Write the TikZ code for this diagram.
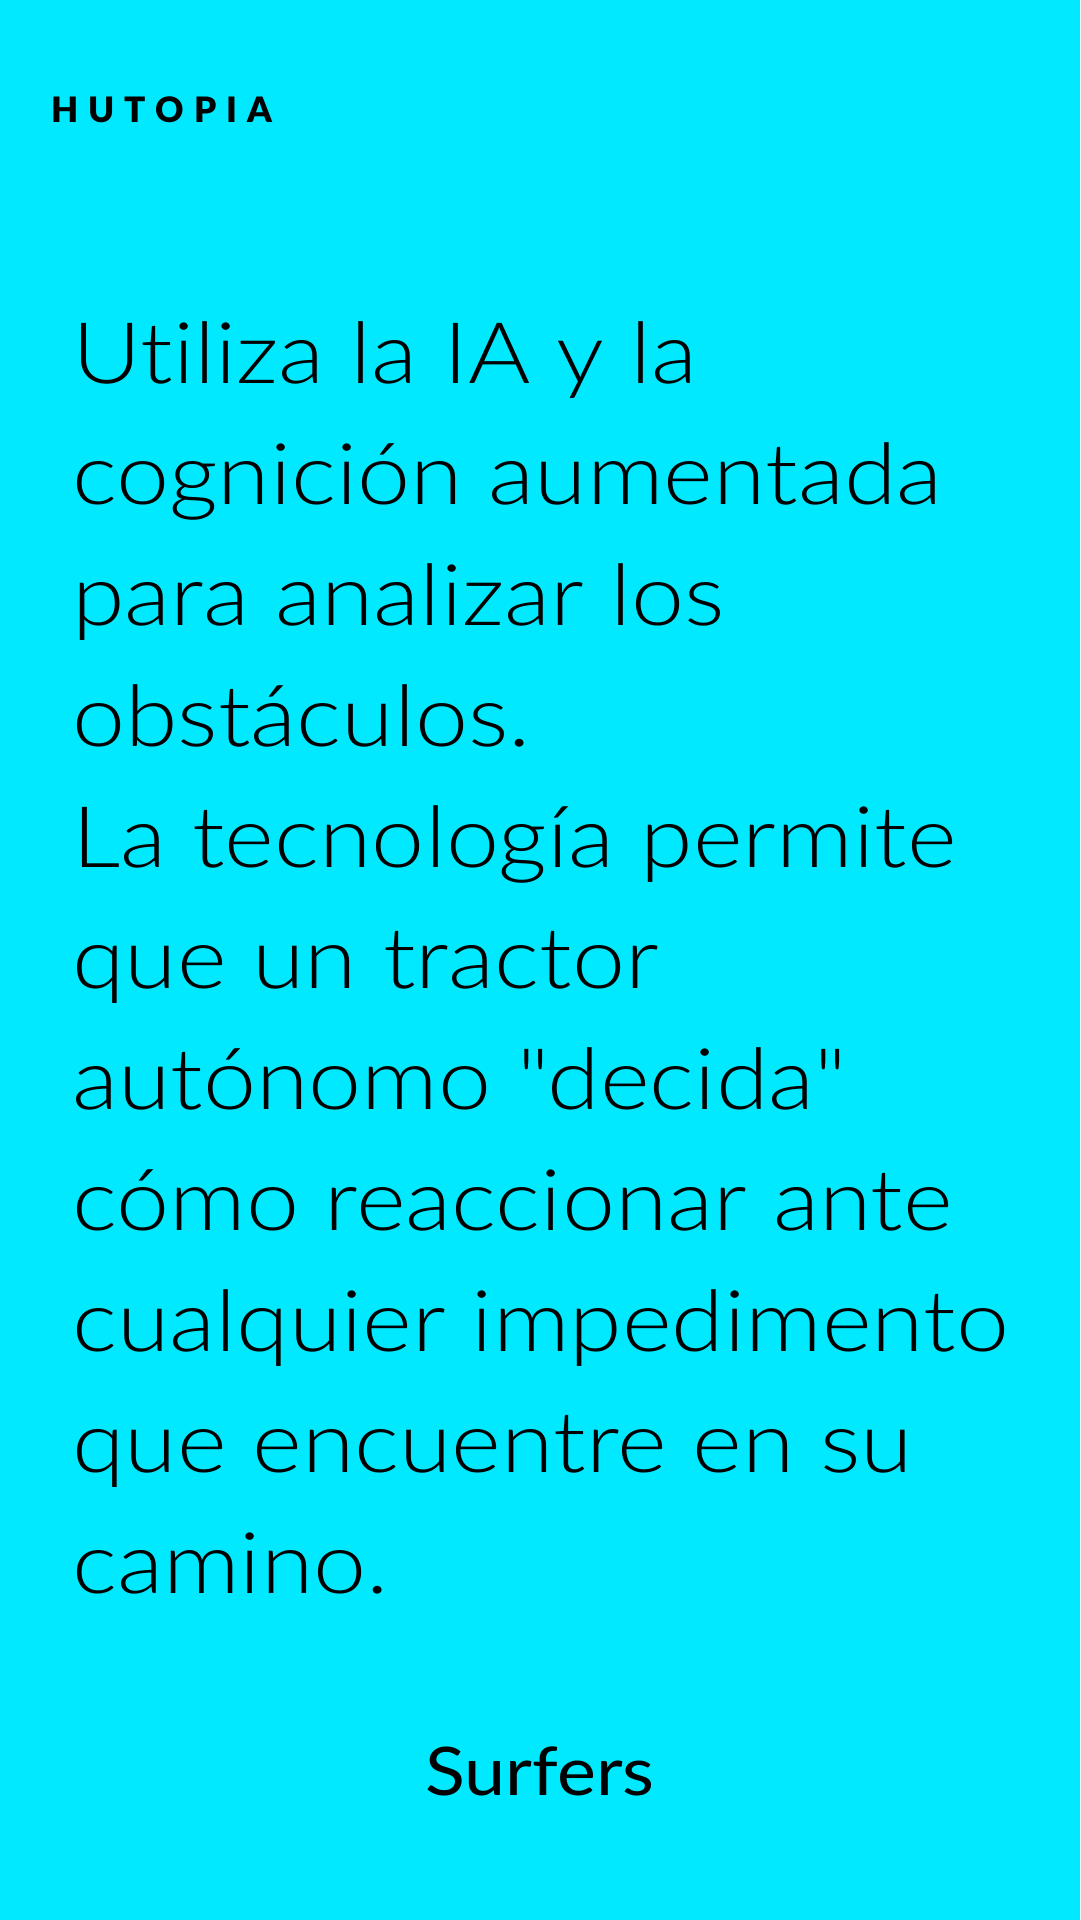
\documentclass[tikz,border=0pt]{standalone}
\usepackage{fontspec}
\IfFontExistsTF{Lato Light}{\newfontfamily\bodyfont{Lato Light}[Ligatures={TeXOff,NoCommon},FakeStretch=1.12]}{\newfontfamily\bodyfont{Lato}[Ligatures={TeXOff,NoCommon},FakeStretch=1.12]}
\newfontfamily\signfont{Lato}[FakeStretch=1.1]
\newfontfamily\brandfont{Lato Black}
\definecolor{bgcyan}{HTML}{00E9FF}
\tikzset{
  bodyline/.style={anchor=base west, inner sep=0pt, font=\fontsize{85}{121}\bodyfont, text=black},
  brand/.style={anchor=base west, inner sep=0pt, font=\fontsize{35}{40}\brandfont, text=black},
  sign/.style={anchor=base, inner sep=0pt, font=\fontsize{67}{80}\signfont, text=black}
}
\begin{document}
\begin{tikzpicture}[x=1pt,y=-1pt]
\fill[bgcyan] (0,0) rectangle (1080,1920);
\useasboundingbox (0,0) rectangle (1080,1920);
\node[brand] (brandname) at (51,122) {H\hspace{10pt}U\hspace{10pt}T\hspace{10pt}O\hspace{10pt}P\hspace{10pt}I\hspace{10pt}A};
\node[bodyline] (l1) at (72,383) {Utiliza la IA y la};
\node[bodyline] (l2) at (72,504) {cognición aumentada};
\node[bodyline] (l3) at (72,625) {para analizar los};
\node[bodyline] (l4) at (72,746) {obstáculos.};
\node[bodyline] (l5) at (72,867) {La tecnología permite};
\node[bodyline] (l6) at (72,988) {que un tractor};
\node[bodyline] (l7) at (72,1109) {autónomo "decida"};
\node[bodyline] (l8) at (72,1230) {cómo reaccionar ante};
\node[bodyline] (l9) at (72,1351) {cualquier impedimento};
\node[bodyline] (l10) at (72,1472) {que encuentre en su};
\node[bodyline] (l11) at (72,1593) {camino.};
\node[sign] (signature) at (540,1795) {Surfers};
\end{tikzpicture}
\end{document}
